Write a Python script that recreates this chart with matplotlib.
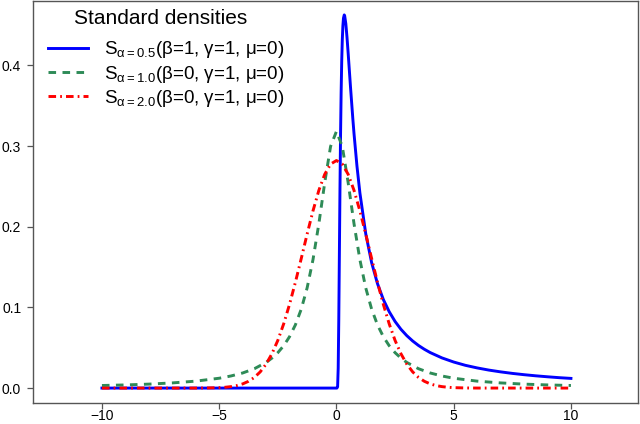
import matplotlib
matplotlib.use("Agg")
import matplotlib.pyplot as plt

plt.rcParams['font.family'] = ['Liberation Sans', 'DejaVu Sans']
plt.rcParams['mathtext.fontset'] = 'custom'
plt.rcParams['mathtext.rm'] = 'Liberation Sans'
plt.rcParams['mathtext.it'] = 'Liberation Sans'
plt.rcParams['mathtext.default'] = 'regular'

# alpha = 0.5 (Levy), beta = 1
x_levy = [-10, -5, 0, 0.02, 0.05, 0.075, 0.1, 0.125, 0.15, 0.175, 0.2, 0.225, 0.25, 0.275, 0.3, 0.333, 0.35,
          0.4, 0.45, 0.5, 0.6, 0.7, 0.75, 0.875, 1, 1.25, 1.5, 1.75, 2, 2.25, 2.5, 2.75, 3, 3.25, 3.5, 3.75,
          4, 4.5, 5, 5.5, 6, 6.5, 7, 7.5, 8, 8.5, 9, 9.5, 10]
y_levy = [0, 0, 0, 0, 0.0016, 0.0247, 0.0850, 0.1653, 0.2450, 0.3130, 0.3661, 0.4050, 0.4319, 0.4491, 0.4586,
          0.4626, 0.4617, 0.4518, 0.4350, 0.4151, 0.3731, 0.3335, 0.3153, 0.2753, 0.2420, 0.1913, 0.1556,
          0.1295, 0.1098, 0.0947, 0.0826, 0.0729, 0.0650, 0.0584, 0.0528, 0.0481, 0.0440, 0.0374, 0.0323,
          0.0282, 0.0250, 0.0223, 0.0201, 0.0182, 0.0166, 0.0152, 0.0140, 0.0129, 0.0120]

# alpha = 1 (Cauchy)
x_cauchy = [-10, -9, -8, -7, -6, -5, -4.5, -4, -3.5, -3, -2.75, -2.5, -2.25, -2, -1.75, -1.5, -1.25, -1,
            -0.75, -0.5, -0.25, 0, 0.25, 0.5, 0.75, 1, 1.25, 1.5, 1.75, 2, 2.25, 2.5, 2.75, 3, 3.5, 4, 4.5,
            5, 6, 7, 8, 9, 10]
y_cauchy = [0.0032, 0.0039, 0.0049, 0.0064, 0.0086, 0.0122, 0.0150, 0.0187, 0.0240, 0.0318, 0.0372, 0.0439,
            0.0525, 0.0637, 0.0784, 0.0979, 0.1242, 0.1592, 0.2037, 0.2546, 0.2996, 0.3183,
            0.2996, 0.2546, 0.2037, 0.1592, 0.1242, 0.0979, 0.0784, 0.0637, 0.0525, 0.0439, 0.0372, 0.0318,
            0.0240, 0.0187, 0.0150, 0.0122, 0.0086, 0.0064, 0.0049, 0.0039, 0.0032]

# alpha = 2 (Gaussian)
x_gauss = [-10, -6, -5.5, -5, -4.75, -4.5, -4.25, -4, -3.75, -3.5, -3.25, -3, -2.75, -2.5, -2.25, -2, -1.75, -1.5,
           -1.25, -1, -0.75, -0.5, -0.25, 0, 0.25, 0.5, 0.75, 1, 1.25, 1.5, 1.75, 2, 2.25, 2.5, 2.75, 3,
           3.25, 3.5, 3.75, 4, 4.25, 4.5, 4.75, 5, 5.5, 6, 10]
y_gauss = [0, 0.00003, 0.00015, 0.00054, 0.00100, 0.00179, 0.00309, 0.00517, 0.00839, 0.01319, 0.0201, 0.0297,
           0.0426, 0.0591, 0.0796, 0.1038, 0.1312, 0.1607, 0.1909, 0.2197, 0.2451, 0.2650, 0.2777, 0.2821,
           0.2777, 0.2650, 0.2451, 0.2197, 0.1909, 0.1607, 0.1312, 0.1038, 0.0796, 0.0591, 0.0426, 0.0297,
           0.0201, 0.01319, 0.00839, 0.00517, 0.00309, 0.00179, 0.00100, 0.00054, 0.00015, 0.00003, 0]

labels = [r"S$_{\alpha=0.5}$(β=1, γ=1, μ=0)",
          r"S$_{\alpha=1.0}$(β=0, γ=1, μ=0)",
          r"S$_{\alpha=2.0}$(β=0, γ=1, μ=0)"]
legend_title = "Standard densities"
xticks = [-10, -5, 0, 5, 10]
yticks = [0.0, 0.1, 0.2, 0.3, 0.4]

W, H = 640, 424
fig = plt.figure(figsize=(W / 100, H / 100), dpi=100)
ax = fig.add_axes([33/W, 21/H, 605/W, 402.5/H])
ax.plot(x_levy, y_levy, color='#0000ff', lw=2.1, ls='-', label=labels[0])
ax.plot(x_cauchy, y_cauchy, color='#2e8b57', lw=2.1, ls=(0, (2.6, 2.2)), label=labels[1])
ax.plot(x_gauss, y_gauss, color='#ff0000', lw=2.1, ls=(0, (2.6, 1.4, 0.6, 1.4)), label=labels[2])

ax.set_xlim(-12.94, 12.86)
ax.set_ylim(-0.0185, 0.4805)
ax.set_xticks(xticks)
ax.set_xticklabels(['\u2212' + str(abs(t)) if t < 0 else str(t) for t in xticks])
ax.set_yticks(yticks)
ax.set_yticklabels([f"{t:.1f}" for t in yticks])
ax.tick_params(direction='out', length=4.5, width=0.9, labelsize=10, colors='#555555', labelcolor='black')
ax.tick_params(axis='x', length=4, pad=0.5)
ax.tick_params(axis='y', pad=4)
for s in ax.spines.values():
    s.set_color('#555555')
    s.set_linewidth(1.0)

leg = ax.legend(loc='upper left', frameon=False, fontsize=13.5,
                handlelength=2.15, labelspacing=0.17, handletextpad=0.85, borderaxespad=0.0,
                bbox_to_anchor=(40.5 / W, 1 - 32 / H), bbox_transform=fig.transFigure)
fig.text(161 / W, 1 - 18 / H, legend_title, fontsize=15, ha='center', va='center')

fig.savefig('out.png', dpi=100)
